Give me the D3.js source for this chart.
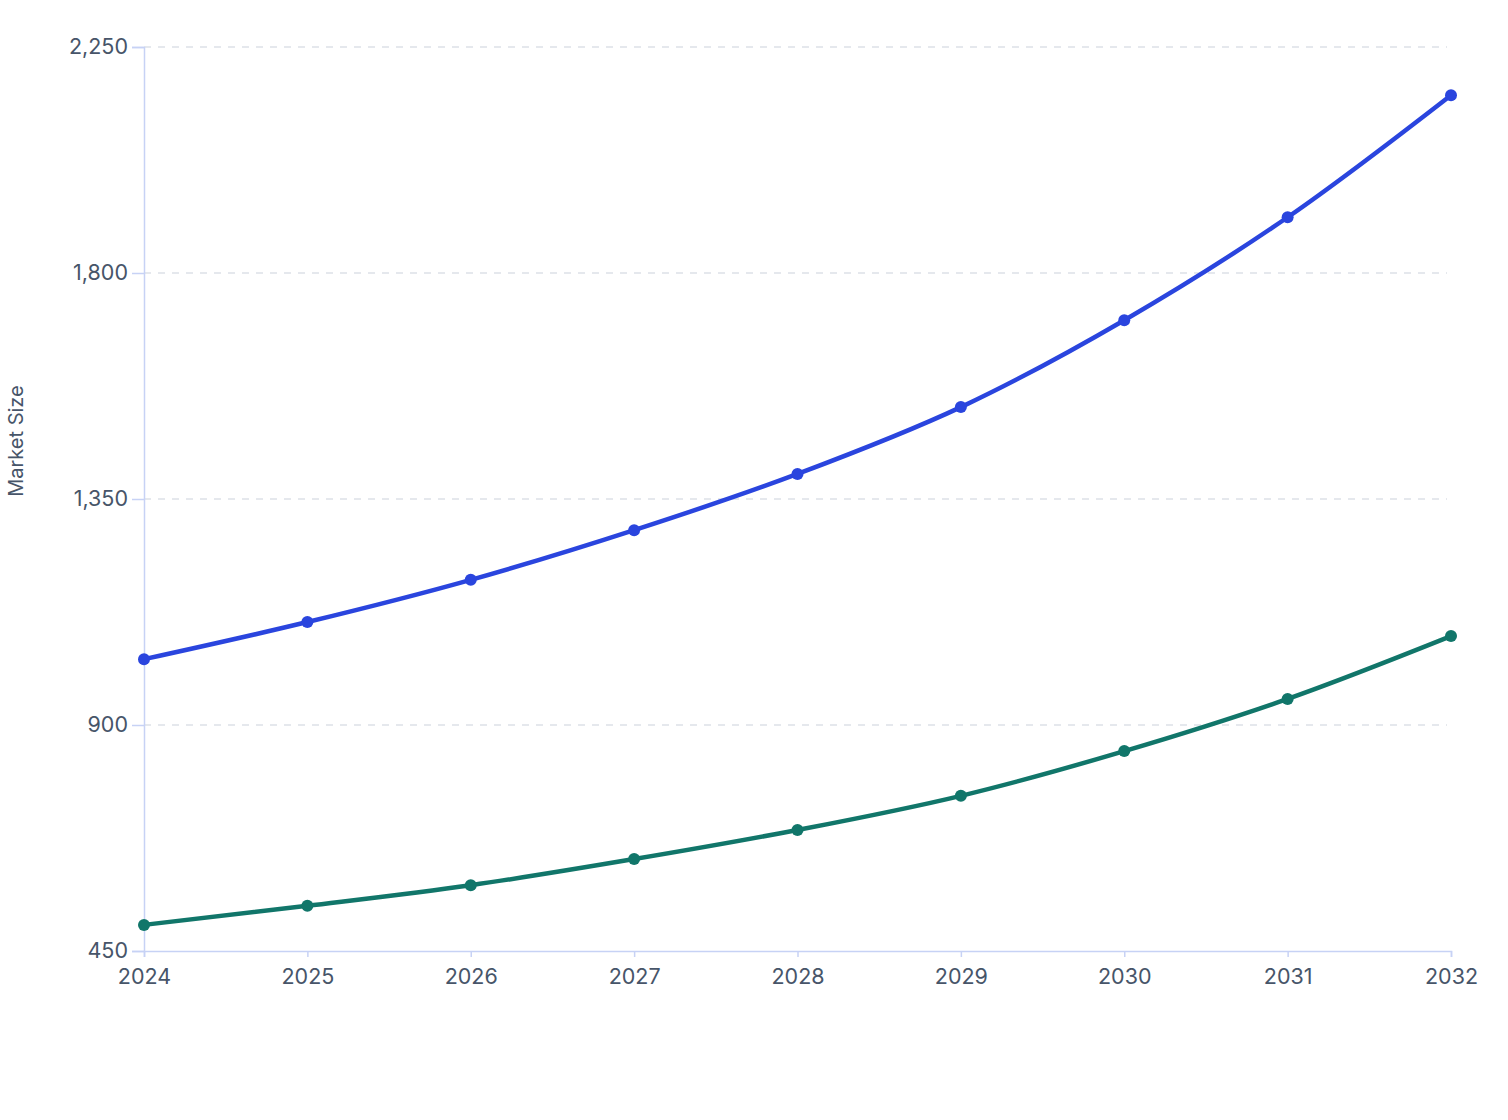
<!DOCTYPE html>
<html><head><meta charset="utf-8">
<script src="https://cdn.jsdelivr.net/npm/d3@7"></script>
<style>body{margin:0;background:#fff;}svg{display:block;font-family:Inter,"Liberation Sans",sans-serif;}</style>
</head><body><svg id="c" width="1508" height="1120"></svg>
<script>
const years = [2024,2025,2026,2027,2028,2029,2030,2031,2032];
const seriesA = [1031,1105,1189,1288,1400,1533,1706,1911,2154];
const seriesB = [502,540,581,633,691,759,848,952,1077];
const yTicks = [450,900,1350,1800,2250];
const colors = ["#2a45de","#11766a"];

const svg = d3.select("#c");
const x = d3.scaleLinear().domain([2024,2032]).range([144,1451]);
const y = d3.scaleLinear().domain([450,2250]).range([951,47]);
const textColor = "#475569";

// grid
svg.append("g").selectAll("line").data(yTicks.filter(t=>t>450)).join("line")
  .attr("x1",144).attr("x2",1447).attr("y1",d=>y(d)).attr("y2",d=>y(d))
  .attr("stroke","#dde1e8").attr("stroke-width",1.5).attr("stroke-dasharray","7,7");

// y axis
const ya = svg.append("g").attr("transform","translate(144,0)")
  .call(d3.axisLeft(y).tickValues(yTicks).tickFormat(d3.format(",")).tickSize(12).tickPadding(4));
ya.select(".domain").attr("stroke","#c7d2f5").attr("stroke-width",1.5);
ya.selectAll(".tick line").attr("stroke","#c7d2f5").attr("stroke-width",1.5);
ya.selectAll(".tick text").attr("fill",textColor).attr("font-size",21.5).attr("font-family","Inter, sans-serif");

// x axis
const xa = svg.append("g").attr("transform","translate(0,951)")
  .call(d3.axisBottom(x).tickValues(years).tickFormat(d3.format("d")).tickSize(6).tickPadding(12));
xa.select(".domain").attr("stroke","#c7d2f5").attr("stroke-width",1.5);
xa.selectAll(".tick line").attr("stroke","#c7d2f5").attr("stroke-width",1.5);
xa.selectAll(".tick text").attr("fill",textColor).attr("font-size",21.5).attr("font-family","Inter, sans-serif");

// y title
svg.append("text").attr("transform","translate(23,441) rotate(-90)")
  .attr("text-anchor","middle").attr("fill",textColor).attr("font-size",20)
  .text("Market Size");

const line = d3.line().x((d,i)=>x(years[i])).y(d=>y(d)).curve(d3.curveMonotoneX);
[seriesA, seriesB].forEach((s,k)=>{
  svg.append("path").datum(s).attr("d",line).attr("fill","none")
    .attr("stroke",colors[k]).attr("stroke-width",4.5).attr("stroke-linejoin","round");
  svg.append("g").selectAll("circle").data(s).join("circle")
    .attr("cx",(d,i)=>x(years[i])).attr("cy",d=>y(d)).attr("r",6).attr("fill",colors[k]);
});
</script></body></html>
